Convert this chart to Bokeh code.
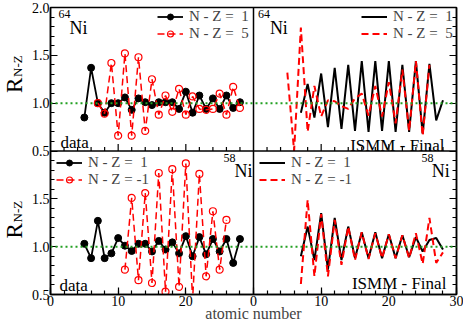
import numpy as np
from bokeh.plotting import figure
from bokeh.layouts import row
from bokeh.models import (Range1d, LinearAxis, FixedTicker, Span, Label, Legend, LegendItem,
                          CustomLabelingPolicy)
from bokeh.embed import file_html
from bokeh.resources import INLINE

# ---------------- data ----------------
# 64Ni, data
z64_data_nz1 = list(range(5, 29))
r64_data_nz1 = [0.85, 1.37, 1.00, 0.90, 1.00, 1.00, 1.06, 0.93, 1.05, 1.01, 0.98, 1.01,
                1.01, 1.01, 0.94, 1.12, 0.90, 1.08, 0.94, 1.05, 0.94, 1.08, 0.95, 1.01]
z64_data_nz5 = list(range(7, 29))
r64_data_nz5 = [1.00, 0.89, 1.42, 0.66, 1.52, 0.66, 1.48, 0.71, 1.25, 0.88, 1.08,
                0.91, 1.15, 0.88, 1.07, 0.94, 0.93, 0.94, 1.10, 0.88, 1.17, 0.95]
# 64Ni, ISMM - Final
z64_ismm_nz1 = list(range(7, 29))
r64_ismm_nz1 = [0.90, 1.20, 0.85, 1.31, 0.75, 1.37, 0.73, 1.40, 0.71, 1.44, 0.70,
                1.44, 0.71, 1.44, 0.70, 1.40, 0.70, 1.44, 0.68, 1.41, 0.82, 1.03]
z64_ismm_nz5 = list(range(5, 27))
r64_ismm_nz5 = [1.32, 0.50, 1.79, 0.70, 1.18, 0.86, 1.03, 1.02, 0.97, 0.94, 1.05,
                1.10, 0.87, 1.18, 0.86, 1.22, 0.79, 1.35, 0.71, 1.44, 0.66, 1.40]
# 58Ni, data
z58_data_nz1 = list(range(5, 29))
r58_data_nz1 = [1.03, 0.88, 1.27, 0.88, 0.93, 1.09, 1.01, 0.955, 1.03, 1.03, 0.95, 1.06,
                0.97, 1.045, 0.93, 1.11, 0.90, 1.10, 0.92, 1.08, 0.95, 1.08, 0.83, 1.08]
z58_data_nzm1 = list(range(11, 27))
r58_data_nzm1 = [0.76, 1.51, 0.65, 1.56, 0.62, 1.77, 0.53, 1.81, 0.58, 1.87, 0.45,
                 1.76, 0.69, 1.37, 0.76, 1.28]
# 58Ni, ISMM - Final
z58_ismm_nz1 = list(range(7, 29))
r58_ismm_nz1 = [0.90, 1.21, 0.86, 1.35, 0.76, 1.30, 0.86, 1.21, 0.88, 1.15, 0.88,
                1.15, 0.88, 1.13, 0.88, 1.12, 0.89, 1.10, 0.95, 1.07, 1.09, 0.97]
z58_ismm_nzm1 = list(range(7, 29))
r58_ismm_nzm1 = [0.61, 1.49, 0.69, 1.34, 0.69, 1.28, 0.81, 1.21, 0.86, 1.15, 0.87,
                 1.14, 0.88, 1.13, 0.88, 1.12, 0.88, 1.14, 0.82, 1.30, 0.83, 0.94]

x_major = [0, 10, 20, 30, 40, 50, 60]
x_tick_labels = {0: "0", 10: "10", 20: "20", 30: "0", 40: "10", 50: "20", 60: "30"}
y_major = [0.5, 1.0, 1.5, 2.0, 2.5, 3.0, 3.5]
y_tick_labels = {0.5: "0.5", 1.0: "1.0", 1.5: "1.5", 2.0: "0.5", 2.5: "1.0", 3.0: "1.5", 3.5: "2.0"}

# ---------------- layout ----------------
FW, FH = 406, 287
PW, PH = FW / 2, FH / 2
TOP = 7
LW = 28  # width of the strip holding the y titles
FONT = "Liberation Serif"
RED = "#ff0000"
GREEN = "#22a022"

p = figure(frame_width=FW, frame_height=FH, x_range=Range1d(0, 60), y_range=Range1d(0.5, 3.5),
           output_backend="svg", toolbar_location=None, min_border_left=18,
           min_border_right=9, min_border_top=TOP, min_border_bottom=0,
           background_fill_color="white")
p.extra_x_ranges = {"r": Range1d(-30, 30)}
p.extra_y_ranges = {"t": Range1d(-1.0, 2.0)}
p.grid.visible = False
p.outline_line_color = "black"
p.outline_line_width = 1.5

def style_axis(ax):
    ax.axis_line_color = "black"
    ax.axis_line_width = 1.5
    ax.major_tick_in = 7
    ax.major_tick_out = 0
    ax.minor_tick_in = 4
    ax.minor_tick_out = 0
    ax.major_tick_line_width = 1.2
    ax.minor_tick_line_width = 1.2
    ax.major_label_text_font = FONT
    ax.major_label_text_color = "black"
    ax.major_label_text_font_size = "14px"
    ax.major_label_standoff = 1

xax = p.xaxis[0]
xax.ticker = FixedTicker(ticks=x_major, minor_ticks=list(range(0, 61, 2)))
xax.major_label_overrides = x_tick_labels
style_axis(xax)
xax.axis_label = "atomic number"
xax.axis_label_text_font = FONT
xax.axis_label_text_font_style = "normal"
xax.axis_label_text_font_size = "16px"
xax.axis_label_standoff = -4

y_minor = [round(v, 2) for v in np.arange(0.5, 3.51, 0.1)]
yax = p.yaxis[0]
yax.ticker = FixedTicker(ticks=y_major, minor_ticks=y_minor)
yax.major_label_overrides = y_tick_labels
style_axis(yax)

rax = LinearAxis(ticker=FixedTicker(ticks=y_major, minor_ticks=y_minor))
style_axis(rax)
rax.major_label_policy = CustomLabelingPolicy(code="return new Set()")
rax.major_label_standoff = 0
p.add_layout(rax, "right")

# panel dividers
p.add_layout(Span(location=30, dimension="height", line_color="black", line_width=1.5))
p.add_layout(Span(location=2.0, dimension="width", line_color="black", line_width=1.5))
# ticks of the top panels' bottom edge (pointing inwards)
mid_minor = [v for v in range(2, 60, 2) if v % 10 != 0]
mid_major = [10, 20, 40, 50]
p.ray(x=mid_minor, y=[2.0] * len(mid_minor), length=4, length_units="screen",
      angle=90, angle_units="deg", line_color="black", line_width=1.2)
p.ray(x=mid_major, y=[2.0] * len(mid_major), length=7, length_units="screen",
      angle=90, angle_units="deg", line_color="black", line_width=1.2)

# reference lines at R = 1
p.add_layout(Span(location=1.0, dimension="width", line_color=GREEN, line_width=2,
                  line_dash="2 3"))
p.add_layout(Span(location=1.0, dimension="width", line_color=GREEN, line_width=2,
                  line_dash="2 3", y_range_name="t"))

# ---- top-left: 64Ni data
tl_b_l = p.line(z64_data_nz1, r64_data_nz1, line_color="black", line_width=1.8, y_range_name="t")
tl_b_s = p.scatter(z64_data_nz1, r64_data_nz1, size=7, marker="circle", fill_color="black",
                   line_color="black", y_range_name="t")
tl_r_l = p.line(z64_data_nz5, r64_data_nz5, line_color=RED, line_width=1.5, line_dash="7 4",
                y_range_name="t")
tl_r_s = p.scatter(z64_data_nz5, r64_data_nz5, size=7, marker="circle", fill_alpha=0,
                   line_color=RED, line_width=1.2, y_range_name="t")
# ---- top-right: 64Ni ISMM
tr_b_l = p.line(z64_ismm_nz1, r64_ismm_nz1, line_color="black", line_width=2,
                x_range_name="r", y_range_name="t")
tr_r_l = p.line(z64_ismm_nz5, r64_ismm_nz5, line_color=RED, line_width=2, line_dash="7 4",
                x_range_name="r", y_range_name="t")
# ---- bottom-left: 58Ni data
bl_b_l = p.line(z58_data_nz1, r58_data_nz1, line_color="black", line_width=1.8)
bl_b_s = p.scatter(z58_data_nz1, r58_data_nz1, size=7, marker="circle", fill_color="black",
                   line_color="black")
bl_r_l = p.line(z58_data_nzm1, r58_data_nzm1, line_color=RED, line_width=1.5, line_dash="7 4")
bl_r_s = p.scatter(z58_data_nzm1, r58_data_nzm1, size=7, marker="circle", fill_alpha=0,
                   line_color=RED, line_width=1.2)
# ---- bottom-right: 58Ni ISMM
br_b_l = p.line(z58_ismm_nz1, r58_ismm_nz1, line_color="black", line_width=2, x_range_name="r")
br_r_l = p.line(z58_ismm_nzm1, r58_ismm_nzm1, line_color=RED, line_width=2, line_dash="7 4",
                x_range_name="r")

LEG_H = 30
def make_legend(items, loc):
    lg = Legend(items=items, location=loc, background_fill_alpha=0, border_line_alpha=0,
                padding=0, spacing=0, margin=0, glyph_width=26, glyph_height=15,
                label_height=15, label_standoff=6, label_text_font=FONT,
                label_text_font_size="15px", label_text_line_height=1.0)
    p.add_layout(lg)

make_legend([LegendItem(label="N - Z =  1", renderers=[tl_b_l, tl_b_s]),
             LegendItem(label="N - Z =  5", renderers=[tl_r_l, tl_r_s])], (107, FH - 5 - LEG_H))
make_legend([LegendItem(label="N - Z =  1", renderers=[tr_b_l]),
             LegendItem(label="N - Z =  5", renderers=[tr_r_l])], (PW + 108, FH - 5 - LEG_H))
make_legend([LegendItem(label="N - Z =  1", renderers=[bl_b_l, bl_b_s]),
             LegendItem(label="N - Z = -1", renderers=[bl_r_l, bl_r_s])], (6, PH - 7 - LEG_H))
make_legend([LegendItem(label="N - Z =  1", renderers=[br_b_l]),
             LegendItem(label="N - Z = -1", renderers=[br_r_l])], (PW + 6, PH - 7 - LEG_H))

def txt(fig, text, x, y, size, align="left", baseline="alphabetic", xr="default",
        yr="default", angle=0):
    fig.add_layout(Label(text=text, x=x, y=y, x_range_name=xr, y_range_name=yr,
                         text_font=FONT, text_font_size=size, text_align=align,
                         text_baseline=baseline, text_color="black",
                         angle=angle, angle_units="deg"))

# nucleus labels
txt(p, "64", 1.17, 1.97, "12px", baseline="top", yr="t")
txt(p, "Ni", 2.79, 1.79, "18px", yr="t")
txt(p, "64", 0.66, 1.97, "12px", baseline="top", xr="r", yr="t")
txt(p, "Ni", 2.42, 1.79, "18px", xr="r", yr="t")
txt(p, "58", 27.35, 1.97, "12px", align="right", baseline="top")
txt(p, "Ni", 29.85, 1.79, "18px", align="right")
txt(p, "58", 26.6, 1.97, "12px", align="right", baseline="top", xr="r")
txt(p, "Ni", 29.0, 1.79, "18px", align="right", xr="r")
# panel labels
txt(p, "data", 1.47, 0.593, "17px", yr="t")
txt(p, "data", 1.32, 0.593, "17px")
txt(p, "ISMM - Final", 28.24, 0.562, "17px", align="right", xr="r", yr="t")
txt(p, "ISMM - Final", 28.5, 0.614, "17px", align="right", xr="r")

# strip on the left holding the y titles R_{N-Z} (text reads bottom to top)
q = figure(frame_width=LW, frame_height=FH, x_range=Range1d(0, LW), y_range=Range1d(0.5, 3.5),
           output_backend="svg", toolbar_location=None, min_border_left=0, min_border_right=0,
           min_border_top=TOP, min_border_bottom=0, outline_line_color=None,
           background_fill_color="white")
q.axis.visible = False
q.grid.visible = False
uy = 3.0 / FH  # data units per pixel (y)
for base in (PH + 58, 56):
    txt(q, "R", 13.5, 0.5 + base * uy, "23px", baseline="middle", angle=90)
    txt(q, "N-Z", 17, 0.5 + (base + 16) * uy, "13px", baseline="middle", angle=90)

layout = row(q, p)
open("out.html", "w").write(file_html(layout, INLINE))
